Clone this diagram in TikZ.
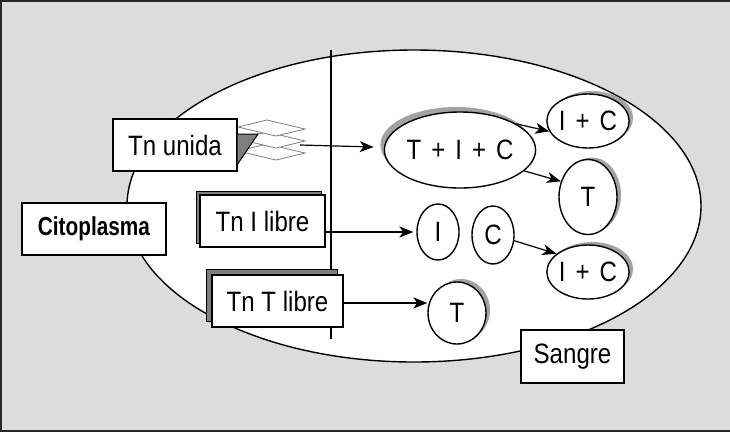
\documentclass[tikz,border=0pt]{standalone}
\usepackage{fontspec}
\setmainfont{Liberation Sans}[FakeStretch=0.86]
\newfontfamily\citofont[FakeStretch=0.8]{Liberation Sans}
\usetikzlibrary{shapes.geometric,shadows,arrows.meta,calc}
\definecolor{bggray}{HTML}{DCDCDC}
\definecolor{shgray}{HTML}{A3A3A3}
\definecolor{dkgray}{HTML}{7F7F7F}
\newcommand{\gap}{\hspace{10pt}}
\tikzset{
  lbl/.style={draw=black, line width=1.4pt, fill=white, inner sep=0pt, font=\fontsize{28}{30}\selectfont},
  oval/.style={ellipse, draw=black, line width=1.4pt, fill=white, inner sep=0pt, font=\fontsize{28}{30}\selectfont},
  arr/.style={line width=1.2pt, -{Stealth[length=14pt,width=11pt,inset=4pt]}},
  layer/.style={draw=gray, line width=0.8pt, fill=white},
}
\begin{document}
\begin{tikzpicture}[x=1pt,y=-1pt]
\useasboundingbox (0,0) rectangle (730,432);
\fill[bggray] (0,0) rectangle (730,432);
\draw[line width=2.5pt, black!85] (730,1) -- (1,1) -- (1,431) -- (730,431);
% cell
\draw[fill=white, line width=1.4pt] (414,206) ellipse [x radius=287, y radius=156];
\coordinate (vtop) at (331,50);
\coordinate (vbot) at (331,339);
\draw[line width=1.2pt] (vtop) -- (vbot);
% layers (Tn unida)
\foreach \yy in {151,139,127}{
  \draw[layer] (238,\yy) -- (267,\yy-7) -- (305,\yy+2) -- (276,\yy+9) -- cycle;
}
\coordinate (du) at (300,145);
\node[lbl, minimum width=124pt, minimum height=52pt] (tnu) at (175,145) {Tn unida};
\draw[fill=dkgray, line width=1pt] (237,134) -- (258,134) -- (237,165) -- cycle;
% free boxes
\node[lbl, minimum width=125pt, minimum height=52pt,
  general shadow={shadow xshift=-4pt, shadow yshift=4pt, fill=dkgray, draw=black, line width=1pt}] (tnI) at (262.5,221) {Tn I libre};
\node[lbl, minimum width=131pt, minimum height=52pt,
  general shadow={shadow xshift=-6pt, shadow yshift=6pt, fill=dkgray, draw=black, line width=1pt}] (tnT) at (277.5,301) {Tn T libre};
\node[lbl, minimum width=144pt, minimum height=52pt, font=\citofont\bfseries\fontsize{26}{30}\selectfont] (cito) at (94,229) {Citoplasma};
\node[lbl, minimum width=103pt, minimum height=53pt] (sangre) at (572.5,356.5) {Sangre};
% ovals
\node[oval, minimum width=126pt, minimum height=76pt,
  general shadow={shadow xshift=-4pt, shadow yshift=5pt, fill=shgray}] (tic) at (460,150) {T\gap+\gap I\gap+\gap C};
\node[oval, minimum width=76pt, minimum height=54pt,
  general shadow={shadow xshift=4pt, shadow yshift=3pt, fill=shgray}] (ic1) at (588,121) {I\gap+\gap C};
\node[oval, minimum width=58pt, minimum height=75pt,
  general shadow={shadow xshift=4pt, shadow yshift=2pt, fill=shgray}] (t1) at (588,197) {T};
\node[oval, minimum width=42pt, minimum height=56pt] (I) at (438,232) {I};
\node[oval, minimum width=42pt, minimum height=58pt] (C) at (493,235) {C};
\node[oval, minimum width=76pt, minimum height=54pt,
  general shadow={shadow xshift=4pt, shadow yshift=3pt, fill=shgray}] (ic2) at (588,272) {I\gap+\gap C};
\node[oval, minimum width=58pt, minimum height=62pt,
  general shadow={shadow xshift=4pt, shadow yshift=3pt, fill=shgray}] (t2) at (457,313) {T};
% connectors
\draw[arr] (du) -- ($(tic.west)+(-10,-3)$);
\draw[arr] (tic.25) -- (ic1.195);
\draw[arr] (tic.-18) -- (t1.150);
\draw[arr] (tnI.east |- I.west) -- ($(I.west)+(-3,0)$);
\draw[arr] (C.-15) -- (ic2.150);
\draw[arr] (tnT.east |- 0,303) -- (t2.west |- 0,303);
\end{tikzpicture}
\end{document}
